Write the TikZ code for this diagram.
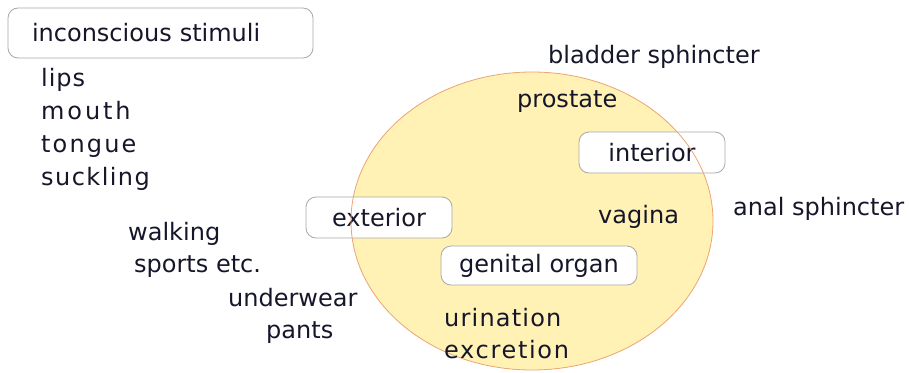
\documentclass[tikz,border=0pt]{standalone}
\usepackage{fontspec}
\setmainfont{DejaVu Sans}
\usepackage{tikz}
\usetikzlibrary{positioning}
\definecolor{Ink}{HTML}{16162A}
\definecolor{Frame}{HTML}{A8A8A8}
\definecolor{Zone}{HTML}{FFF2B4}
\definecolor{ZoneLine}{HTML}{EBA472}
\newcommand{\spread}[2]{{\addfontfeatures{LetterSpace=#1}#2}}
\tikzset{tag/.style={rounded corners=10pt,draw=Frame,fill=white,line width=.8pt,text=Ink,inner sep=0pt,font=\fontsize{24}{29}\selectfont},word/.style={text=Ink,inner sep=0pt,anchor=base west,font=\fontsize{24}{29}\selectfont}}

\begin{document}
\begin{tikzpicture}[x=1pt,y=-1pt]
        \useasboundingbox(0,0)rectangle(909,372);
        \fill[Zone](532,221)ellipse[x radius=181,y radius=149];
        \node[tag,minimum width=305pt,minimum height=50pt,text width=257pt,inner xsep=24pt,align=left](stimuli)at(160.5,33){inconscious stimuli};
        \node[tag,minimum width=146pt,minimum height=41pt](interior)at(652,152.5){interior};
        \node[tag,minimum width=146pt,minimum height=41pt](exterior)at(379,217.5){exterior};
        \node[tag,minimum width=196pt,minimum height=39pt](organ)at(539,265.5){genital organ};
        \draw[ZoneLine,line width=.8pt](532,221)ellipse[x radius=181,y radius=149];
        % oral words
        \node[word](lips)at(41,86){\spread{4}{lips}};
        \node[word](mouth)at(41,119){\spread{12}{mouth}};
        \node[word](tongue)at(41,152){\spread{9}{tongue}};
        \node[word](suckling)at(41,185){\spread{6}{suckling}};
        % around the zone
        \node[word](bladder)at(548,63){bladder sphincter};
        \node[word](prostate)at(517,107){prostate};
        \node[word](vagina)at(598,223){vagina};
        \node[word](anal)at(733,215){anal sphincter};
        \node[word](walking)at(128,240){walking};
        \node[word](sports)at(134,272){sports etc.};
        \node[word](underwear)at(228,306){underwear};
        \node[word](pants)at(266,338){pants};
        \node[word](urination)at(444,326){\spread{5}{urination}};
        \node[word](excretion)at(444,358){\spread{7}{excretion}};
      \end{tikzpicture}
\end{document}
